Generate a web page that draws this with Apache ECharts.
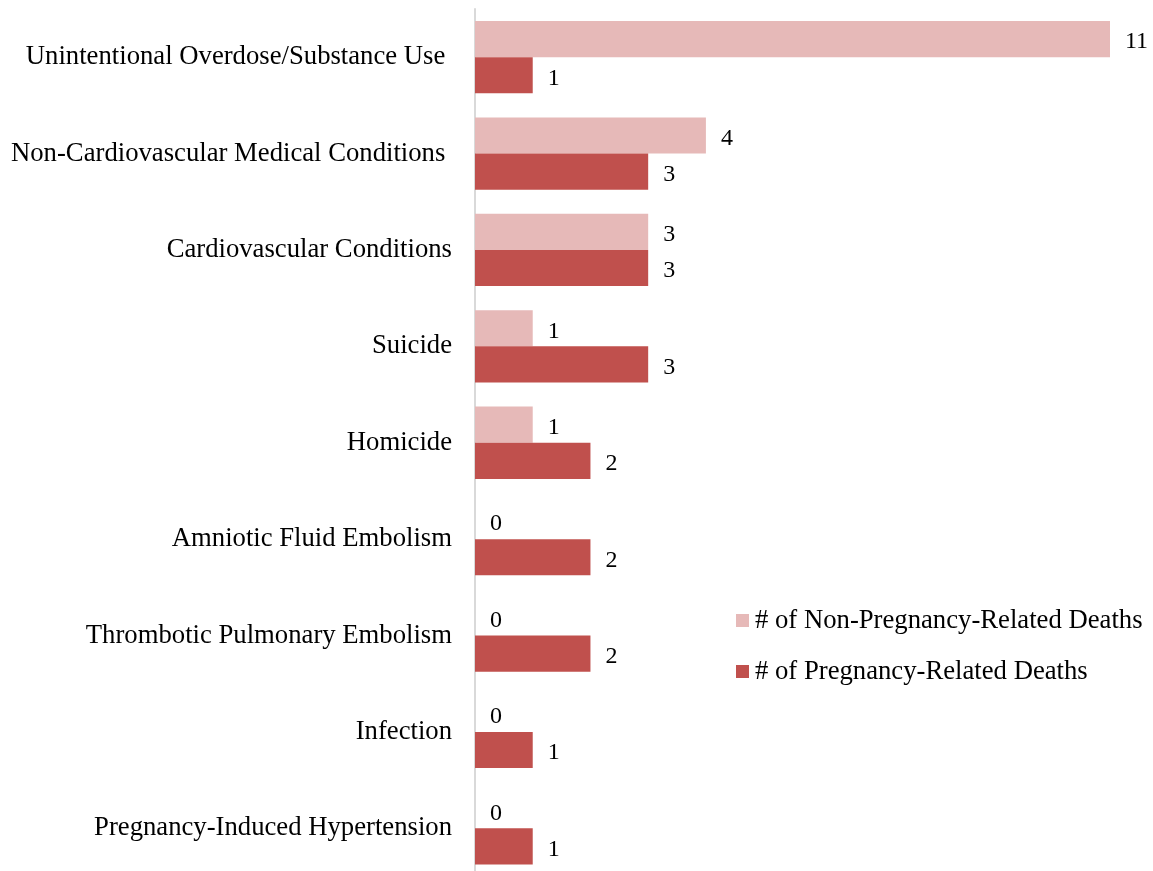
<!DOCTYPE html>
<html>
<head>
<meta charset="utf-8">
<script src="https://cdn.jsdelivr.net/npm/echarts@6/dist/echarts.min.js"></script>
<style>
html,body{margin:0;padding:0;background:#fff;overflow:hidden;}
#chart{width:1153px;height:880px;}
</style>
</head>
<body>
<div id="chart"></div>
<script>
const categories = [
  "Unintentional Overdose/Substance Use ",
  "Non-Cardiovascular Medical Conditions ",
  "Cardiovascular Conditions",
  "Suicide",
  "Homicide",
  "Amniotic Fluid Embolism",
  "Thrombotic Pulmonary Embolism",
  "Infection",
  "Pregnancy-Induced Hypertension"
];
const nonPregnancyRelated = [11, 4, 3, 1, 1, 0, 0, 0, 0];
const pregnancyRelated = [1, 3, 3, 3, 2, 2, 2, 1, 1];
const seriesNames = ["# of Non-Pregnancy-Related Deaths", "# of Pregnancy-Related Deaths"];

const FONT = "Liberation Serif";
const chart = echarts.init(document.getElementById('chart'));
const labelCfg = {
  show: true, position: 'right', distance: 15, offset: [0, 3],
  color: '#000', fontFamily: FONT, fontSize: 24
};
chart.setOption({
  animation: false,
  backgroundColor: '#fff',
  textStyle: { fontFamily: FONT },
  grid: { left: 475, right: 43, top: 9, bottom: 3.5, containLabel: false },
  legend: {
    orient: 'vertical',
    left: 731, top: 602,
    itemWidth: 13, itemHeight: 13, itemGap: 24,
    icon: 'rect',
    textStyle: { fontFamily: FONT, fontSize: 26.7, color: '#000', lineHeight: 26, padding: [0,0,0,1] },
    data: seriesNames
  },
  xAxis: {
    type: 'value', min: 0, max: 11,
    show: false,
    splitLine: { show: false }
  },
  yAxis: {
    type: 'category', inverse: true,
    data: categories,
    axisLine: { show: true, lineStyle: { color: '#d9d9d9', width: 2 } },
    axisTick: { show: false },
    axisLabel: { color: '#000', fontFamily: FONT, fontSize: 26.7, margin: 23, padding: [10, 0, 0, 0] }
  },
  series: [
    {
      name: seriesNames[0], type: 'bar', data: nonPregnancyRelated,
      itemStyle: { color: '#E6B9B8' },
      barGap: '0%', barCategoryGap: '25%',
      label: labelCfg
    },
    {
      name: seriesNames[1], type: 'bar', data: pregnancyRelated,
      itemStyle: { color: '#C0504D' },
      barGap: '0%', barCategoryGap: '25%',
      label: labelCfg
    }
  ]
});
</script>
</body>
</html>
